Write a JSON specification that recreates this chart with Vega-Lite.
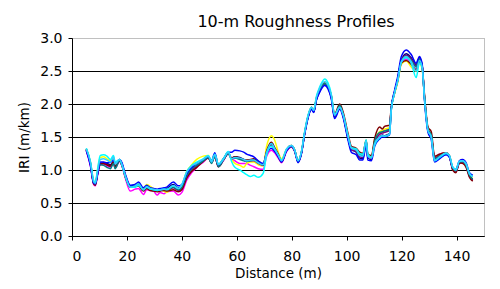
{
  "$schema": "https://vega.github.io/schema/vega-lite/v6.json",
  "autosize": "none",
  "width": 412,
  "height": 198,
  "padding": {"left": 72, "top": 38, "right": 16, "bottom": 53},
  "background": "white",
  "config": {
    "font": "DejaVu Sans",
    "view": {"stroke": "#808080", "strokeDash": [1, 1], "strokeWidth": 1}
  },
  "title": {
    "text": "10-m Roughness Profiles",
    "font": "DejaVu Sans",
    "fontSize": 16,
    "fontWeight": "normal",
    "color": "black",
    "anchor": "middle",
    "dx": 18,
    "offset": 1
  },
  "data": {
    "values": [
      {"d":5.2,"a":1.31,"b":1.29,"c":1.32,"e":1.30,"f":1.31,"g":1.32,"h":1.30,"k":1.33,"i":1.32},
      {"d":6.7,"a":1.08,"b":1.06,"c":1.12,"e":1.09,"f":1.10,"g":1.11,"h":1.07,"k":1.13,"i":1.12},
      {"d":7.9,"a":0.80,"b":0.78,"c":0.83,"e":0.80,"f":0.79,"g":0.81,"h":0.80,"k":0.84,"i":0.82},
      {"d":8.5,"a":0.79,"b":0.76,"c":0.80,"e":0.78,"f":0.77,"g":0.79,"h":0.79,"k":0.81,"i":0.80},
      {"d":9.3,"a":0.94,"b":0.92,"c":1.00,"e":0.95,"f":0.94,"g":0.96,"h":0.93,"k":1.01,"i":0.98},
      {"d":10.3,"a":1.10,"b":1.08,"c":1.19,"e":1.10,"f":1.09,"g":1.08,"h":1.12,"k":1.22,"i":1.16},
      {"d":11.5,"a":1.11,"b":1.09,"c":1.20,"e":1.10,"f":1.10,"g":1.07,"h":1.12,"k":1.23,"i":1.17},
      {"d":12.7,"a":1.10,"b":1.06,"c":1.17,"e":1.08,"f":1.08,"g":1.04,"h":1.11,"k":1.21,"i":1.15},
      {"d":14,"a":1.08,"b":1.04,"c":1.14,"e":1.06,"f":1.06,"g":1.02,"h":1.12,"k":1.16,"i":1.12},
      {"d":15.1,"a":1.13,"b":1.10,"c":1.18,"e":1.12,"f":1.12,"g":1.10,"h":1.15,"k":1.22,"i":1.20},
      {"d":15.7,"a":1.06,"b":1.03,"c":1.10,"e":1.05,"f":1.05,"g":1.02,"h":1.10,"k":1.12,"i":1.09},
      {"d":17.3,"a":1.16,"b":1.13,"c":1.15,"e":1.14,"f":1.14,"g":1.14,"h":1.16,"k":1.16,"i":1.16},
      {"d":18.2,"a":1.09,"b":1.06,"c":1.08,"e":1.07,"f":1.07,"g":1.07,"h":1.11,"k":1.08,"i":1.08},
      {"d":19.4,"a":0.92,"b":0.88,"c":0.91,"e":0.90,"f":0.90,"g":0.90,"h":0.94,"k":0.91,"i":0.91},
      {"d":21.2,"a":0.76,"b":0.68,"c":0.74,"e":0.74,"f":0.74,"g":0.75,"h":0.77,"k":0.74,"i":0.74},
      {"d":23,"a":0.78,"b":0.71,"c":0.76,"e":0.75,"f":0.75,"g":0.76,"h":0.78,"k":0.74,"i":0.76},
      {"d":24.2,"a":0.80,"b":0.72,"c":0.79,"e":0.77,"f":0.76,"g":0.78,"h":0.82,"k":0.77,"i":0.79},
      {"d":26,"a":0.70,"b":0.63,"c":0.72,"e":0.69,"f":0.68,"g":0.70,"h":0.73,"k":0.70,"i":0.70},
      {"d":27.2,"a":0.75,"b":0.70,"c":0.78,"e":0.73,"f":0.72,"g":0.74,"h":0.77,"k":0.74,"i":0.75},
      {"d":28.5,"a":0.71,"b":0.69,"c":0.75,"e":0.70,"f":0.69,"g":0.71,"h":0.73,"k":0.71,"i":0.72},
      {"d":29.7,"a":0.71,"b":0.68,"c":0.72,"e":0.69,"f":0.68,"g":0.70,"h":0.72,"k":0.70,"i":0.71},
      {"d":31,"a":0.70,"b":0.62,"c":0.70,"e":0.68,"f":0.67,"g":0.69,"h":0.71,"k":0.69,"i":0.70},
      {"d":32.1,"a":0.71,"b":0.66,"c":0.71,"e":0.69,"f":0.68,"g":0.70,"h":0.72,"k":0.70,"i":0.70},
      {"d":33.5,"a":0.71,"b":0.64,"c":0.68,"e":0.70,"f":0.69,"g":0.71,"h":0.73,"k":0.71,"i":0.71},
      {"d":34.5,"a":0.72,"b":0.67,"c":0.66,"e":0.69,"f":0.68,"g":0.71,"h":0.74,"k":0.70,"i":0.71},
      {"d":36.9,"a":0.78,"b":0.68,"c":0.74,"e":0.73,"f":0.70,"g":0.74,"h":0.82,"k":0.76,"i":0.76},
      {"d":38.7,"a":0.73,"b":0.62,"c":0.70,"e":0.69,"f":0.67,"g":0.70,"h":0.76,"k":0.72,"i":0.72},
      {"d":40,"a":0.76,"b":0.66,"c":0.77,"e":0.72,"f":0.70,"g":0.74,"h":0.78,"k":0.78,"i":0.78},
      {"d":41.8,"a":0.93,"b":0.85,"c":0.98,"e":0.90,"f":0.88,"g":0.92,"h":0.95,"k":0.98,"i":0.97},
      {"d":43.6,"a":1.03,"b":0.96,"c":1.08,"e":1.00,"f":0.98,"g":1.02,"h":1.04,"k":1.07,"i":1.06},
      {"d":45.4,"a":1.10,"b":1.04,"c":1.16,"e":1.06,"f":1.04,"g":1.07,"h":1.10,"k":1.12,"i":1.10},
      {"d":47.8,"a":1.15,"b":1.12,"c":1.21,"e":1.14,"f":1.13,"g":1.14,"h":1.16,"k":1.17,"i":1.16},
      {"d":49.6,"a":1.20,"b":1.18,"c":1.22,"e":1.19,"f":1.18,"g":1.19,"h":1.21,"k":1.22,"i":1.21},
      {"d":50.8,"a":1.12,"b":1.12,"c":1.13,"e":1.11,"f":1.11,"g":1.10,"h":1.14,"k":1.14,"i":1.12},
      {"d":52,"a":1.22,"b":1.20,"c":1.24,"e":1.21,"f":1.20,"g":1.21,"h":1.26,"k":1.24,"i":1.23},
      {"d":53.3,"a":1.07,"b":1.05,"c":1.08,"e":1.06,"f":1.05,"g":1.05,"h":1.08,"k":1.09,"i":1.08},
      {"d":55.1,"a":1.16,"b":1.14,"c":1.17,"e":1.15,"f":1.15,"g":1.15,"h":1.17,"k":1.17,"i":1.16},
      {"d":56.9,"a":1.26,"b":1.25,"c":1.27,"e":1.25,"f":1.25,"g":1.25,"h":1.27,"k":1.28,"i":1.27},
      {"d":58.1,"a":1.18,"b":1.17,"c":1.16,"e":1.17,"f":1.18,"g":1.17,"h":1.27,"k":1.13,"i":1.17},
      {"d":59.3,"a":1.20,"b":1.14,"c":1.10,"e":1.19,"f":1.20,"g":1.18,"h":1.30,"k":1.04,"i":1.19},
      {"d":61.1,"a":1.19,"b":1.10,"c":1.07,"e":1.17,"f":1.18,"g":1.16,"h":1.29,"k":1.00,"i":1.18},
      {"d":62.5,"a":1.16,"b":1.10,"c":1.04,"e":1.15,"f":1.16,"g":1.14,"h":1.27,"k":0.96,"i":1.16},
      {"d":63.6,"a":1.14,"b":1.10,"c":1.10,"e":1.13,"f":1.15,"g":1.13,"h":1.24,"k":0.93,"i":1.14},
      {"d":65,"a":1.15,"b":1.07,"c":1.12,"e":1.14,"f":1.16,"g":1.14,"h":1.22,"k":0.90,"i":1.15},
      {"d":66.2,"a":1.16,"b":1.05,"c":1.12,"e":1.14,"f":1.17,"g":1.15,"h":1.20,"k":0.92,"i":1.15},
      {"d":67.8,"a":1.12,"b":1.02,"c":1.08,"e":1.10,"f":1.13,"g":1.11,"h":1.14,"k":0.89,"i":1.11},
      {"d":69.6,"a":1.08,"b":1.01,"c":1.06,"e":1.07,"f":1.08,"g":1.08,"h":1.10,"k":0.95,"i":1.08},
      {"d":70.8,"a":1.26,"b":1.20,"c":1.35,"e":1.25,"f":1.28,"g":1.26,"h":1.24,"k":1.22,"i":1.26},
      {"d":72.6,"a":1.40,"b":1.30,"c":1.52,"e":1.38,"f":1.42,"g":1.40,"h":1.33,"k":1.36,"i":1.40},
      {"d":73.8,"a":1.32,"b":1.26,"c":1.45,"e":1.30,"f":1.34,"g":1.32,"h":1.28,"k":1.31,"i":1.32},
      {"d":75.1,"a":1.22,"b":1.18,"c":1.27,"e":1.20,"f":1.24,"g":1.22,"h":1.20,"k":1.23,"i":1.22},
      {"d":76.3,"a":1.13,"b":1.11,"c":1.17,"e":1.12,"f":1.13,"g":1.13,"h":1.12,"k":1.15,"i":1.14},
      {"d":78.1,"a":1.30,"b":1.28,"c":1.31,"e":1.29,"f":1.31,"g":1.30,"h":1.29,"k":1.32,"i":1.31},
      {"d":79.9,"a":1.36,"b":1.35,"c":1.37,"e":1.35,"f":1.37,"g":1.36,"h":1.36,"k":1.37,"i":1.37},
      {"d":81.1,"a":1.29,"b":1.28,"c":1.30,"e":1.28,"f":1.30,"g":1.29,"h":1.29,"k":1.30,"i":1.30},
      {"d":82.3,"a":1.13,"b":1.12,"c":1.14,"e":1.12,"f":1.14,"g":1.13,"h":1.11,"k":1.14,"i":1.14},
      {"d":83.5,"a":1.25,"b":1.26,"c":1.27,"e":1.25,"f":1.26,"g":1.26,"h":1.24,"k":1.27,"i":1.27},
      {"d":84.7,"a":1.55,"b":1.56,"c":1.57,"e":1.55,"f":1.56,"g":1.56,"h":1.54,"k":1.58,"i":1.57},
      {"d":86,"a":1.81,"b":1.82,"c":1.83,"e":1.81,"f":1.82,"g":1.82,"h":1.80,"k":1.84,"i":1.83},
      {"d":87.2,"a":1.93,"b":1.94,"c":1.95,"e":1.93,"f":1.95,"g":1.94,"h":1.92,"k":1.95,"i":1.95},
      {"d":88,"a":1.88,"b":1.89,"c":1.90,"e":1.88,"f":1.90,"g":1.89,"h":1.87,"k":1.91,"i":1.90},
      {"d":89,"a":2.07,"b":2.08,"c":2.10,"e":2.07,"f":2.09,"g":2.08,"h":2.06,"k":2.12,"i":2.10},
      {"d":90.2,"a":2.20,"b":2.21,"c":2.23,"e":2.20,"f":2.22,"g":2.21,"h":2.18,"k":2.26,"i":2.24},
      {"d":92,"a":2.30,"b":2.31,"c":2.33,"e":2.30,"f":2.32,"g":2.31,"h":2.28,"k":2.38,"i":2.34},
      {"d":93.2,"a":2.25,"b":2.26,"c":2.28,"e":2.25,"f":2.27,"g":2.26,"h":2.23,"k":2.32,"i":2.28},
      {"d":94.4,"a":2.10,"b":2.11,"c":2.13,"e":2.10,"f":2.13,"g":2.12,"h":2.08,"k":2.15,"i":2.13},
      {"d":95.6,"a":1.80,"b":1.81,"c":1.82,"e":1.80,"f":1.85,"g":1.82,"h":1.78,"k":1.84,"i":1.83},
      {"d":97.5,"a":1.96,"b":1.96,"c":1.97,"e":1.96,"f":2.00,"g":1.98,"h":1.92,"k":1.95,"i":1.95},
      {"d":98.7,"a":1.82,"b":1.83,"c":1.84,"e":1.82,"f":1.88,"g":1.85,"h":1.80,"k":1.84,"i":1.84},
      {"d":100.5,"a":1.48,"b":1.51,"c":1.52,"e":1.49,"f":1.55,"g":1.51,"h":1.45,"k":1.52,"i":1.51},
      {"d":101.7,"a":1.31,"b":1.33,"c":1.33,"e":1.31,"f":1.36,"g":1.33,"h":1.27,"k":1.34,"i":1.33},
      {"d":103.5,"a":1.27,"b":1.30,"c":1.31,"e":1.28,"f":1.33,"g":1.30,"h":1.23,"k":1.32,"i":1.30},
      {"d":104.7,"a":1.18,"b":1.23,"c":1.24,"e":1.20,"f":1.27,"g":1.23,"h":1.15,"k":1.25,"i":1.22},
      {"d":105.9,"a":1.17,"b":1.22,"c":1.23,"e":1.19,"f":1.25,"g":1.22,"h":1.15,"k":1.24,"i":1.21},
      {"d":107.1,"a":1.40,"b":1.44,"c":1.45,"e":1.42,"f":1.45,"g":1.44,"h":1.38,"k":1.46,"i":1.44},
      {"d":107.7,"a":1.19,"b":1.22,"c":1.22,"e":1.20,"f":1.24,"g":1.22,"h":1.15,"k":1.24,"i":1.21},
      {"d":109,"a":1.16,"b":1.19,"c":1.20,"e":1.17,"f":1.22,"g":1.19,"h":1.14,"k":1.19,"i":1.18},
      {"d":110.2,"a":1.40,"b":1.44,"c":1.45,"e":1.42,"f":1.48,"g":1.44,"h":1.36,"k":1.38,"i":1.40},
      {"d":112,"a":1.50,"b":1.56,"c":1.58,"e":1.54,"f":1.65,"g":1.57,"h":1.47,"k":1.49,"i":1.50},
      {"d":113,"a":1.53,"b":1.58,"c":1.60,"e":1.56,"f":1.62,"g":1.58,"h":1.50,"k":1.52,"i":1.52},
      {"d":113.8,"a":1.52,"b":1.60,"c":1.62,"e":1.57,"f":1.66,"g":1.59,"h":1.50,"k":1.51,"i":1.51},
      {"d":115.6,"a":1.55,"b":1.63,"c":1.64,"e":1.60,"f":1.68,"g":1.62,"h":1.53,"k":1.54,"i":1.55},
      {"d":116.2,"a":1.90,"b":1.92,"c":1.92,"e":1.92,"f":1.94,"g":1.92,"h":1.92,"k":1.90,"i":1.90},
      {"d":117.4,"a":2.16,"b":2.17,"c":2.15,"e":2.18,"f":2.17,"g":2.17,"h":2.20,"k":2.16,"i":2.16},
      {"d":118.6,"a":2.38,"b":2.36,"c":2.33,"e":2.38,"f":2.35,"g":2.37,"h":2.42,"k":2.35,"i":2.36},
      {"d":119.9,"a":2.66,"b":2.62,"c":2.60,"e":2.66,"f":2.62,"g":2.65,"h":2.72,"k":2.63,"i":2.64},
      {"d":121.7,"a":2.76,"b":2.68,"c":2.65,"e":2.74,"f":2.66,"g":2.72,"h":2.82,"k":2.70,"i":2.72},
      {"d":123.5,"a":2.70,"b":2.62,"c":2.56,"e":2.68,"f":2.60,"g":2.66,"h":2.75,"k":2.62,"i":2.64},
      {"d":125.3,"a":2.60,"b":2.52,"c":2.50,"e":2.58,"f":2.52,"g":2.56,"h":2.62,"k":2.40,"i":2.50},
      {"d":126.5,"a":2.70,"b":2.66,"c":2.62,"e":2.68,"f":2.64,"g":2.68,"h":2.72,"k":2.62,"i":2.66},
      {"d":127.5,"a":2.58,"b":2.55,"c":2.52,"e":2.57,"f":2.56,"g":2.57,"h":2.60,"k":2.54,"i":2.56},
      {"d":128.3,"a":2.10,"b":2.13,"c":2.12,"e":2.12,"f":2.16,"g":2.13,"h":2.08,"k":2.10,"i":2.11},
      {"d":129.6,"a":1.60,"b":1.62,"c":1.62,"e":1.61,"f":1.65,"g":1.62,"h":1.57,"k":1.60,"i":1.60},
      {"d":130.8,"a":1.50,"b":1.54,"c":1.53,"e":1.52,"f":1.58,"g":1.53,"h":1.46,"k":1.50,"i":1.50},
      {"d":132,"a":1.14,"b":1.20,"c":1.18,"e":1.18,"f":1.21,"g":1.17,"h":1.12,"k":1.14,"i":1.14},
      {"d":133.8,"a":1.18,"b":1.24,"c":1.23,"e":1.22,"f":1.24,"g":1.21,"h":1.17,"k":1.19,"i":1.20},
      {"d":136.2,"a":1.24,"b":1.26,"c":1.26,"e":1.25,"f":1.26,"g":1.25,"h":1.23,"k":1.25,"i":1.26},
      {"d":137.4,"a":1.20,"b":1.22,"c":1.22,"e":1.21,"f":1.21,"g":1.21,"h":1.19,"k":1.22,"i":1.22},
      {"d":138.6,"a":1.02,"b":1.01,"c":1.04,"e":1.02,"f":1.00,"g":1.03,"h":1.04,"k":1.05,"i":1.04},
      {"d":139.8,"a":0.99,"b":0.97,"c":1.00,"e":0.98,"f":0.96,"g":0.99,"h":1.01,"k":1.01,"i":1.00},
      {"d":141,"a":1.11,"b":1.10,"c":1.12,"e":1.10,"f":1.11,"g":1.12,"h":1.14,"k":1.13,"i":1.13},
      {"d":142.2,"a":1.12,"b":1.11,"c":1.13,"e":1.12,"f":1.10,"g":1.13,"h":1.16,"k":1.14,"i":1.14},
      {"d":143.5,"a":1.07,"b":1.05,"c":1.08,"e":1.06,"f":1.04,"g":1.07,"h":1.11,"k":1.09,"i":1.09},
      {"d":144.7,"a":0.92,"b":0.90,"c":0.94,"e":0.91,"f":0.89,"g":0.92,"h":0.96,"k":0.95,"i":0.94},
      {"d":145.9,"a":0.86,"b":0.84,"c":0.89,"e":0.85,"f":0.83,"g":0.86,"h":0.92,"k":0.90,"i":0.90}
    ]
  },
  "transform": [
    {"fold": ["a", "b", "c", "e", "f", "g", "h", "k", "i"], "as": ["s", "v"]}
  ],
  "mark": {"type": "line", "strokeWidth": 1.5, "interpolate": "monotone"},
  "encoding": {
    "x": {
      "field": "d",
      "type": "quantitative",
      "scale": {"domain": [0, 150], "nice": false},
      "axis": {
        "title": "Distance (m)",
        "values": [0, 20, 40, 60, 80, 100, 120, 140],
        "grid": false,
        "domainColor": "black",
        "tickColor": "black",
        "tickSize": 4,
        "labelFontSize": 14,
        "labelColor": "black",
        "labelPadding": 9,
        "titleFontSize": 13.5,
        "titleFontWeight": "normal",
        "titleColor": "black",
        "titlePadding": 3
      }
    },
    "y": {
      "field": "v",
      "type": "quantitative",
      "scale": {"domain": [0, 3], "nice": false},
      "axis": {
        "title": "IRI (m/km)",
        "values": [0, 0.5, 1, 1.5, 2, 2.5, 3],
        "format": ".1f",
        "grid": true,
        "gridColor": {"condition": {"test": "datum.value >= 3", "value": "transparent"}, "value": "black"},
        "gridOpacity": 1,
        "gridWidth": 1,
        "domainColor": "black",
        "tickColor": "black",
        "tickSize": 4,
        "labelFontSize": 14,
        "labelColor": "black",
        "labelPadding": 6,
        "titleFontSize": 13.5,
        "titleFontWeight": "normal",
        "titleColor": "black",
        "titlePadding": 8
      }
    },
    "color": {
      "field": "s",
      "type": "nominal",
      "legend": null,
      "scale": {
        "domain": ["a", "b", "c", "e", "f", "g", "h", "k", "i"],
        "range": ["#000080", "#FF00FF", "#FFFF00", "#800080", "#800000", "#008080", "#0000FF", "#00FFFF", "#33CCFF"]
      }
    }
  }
}
